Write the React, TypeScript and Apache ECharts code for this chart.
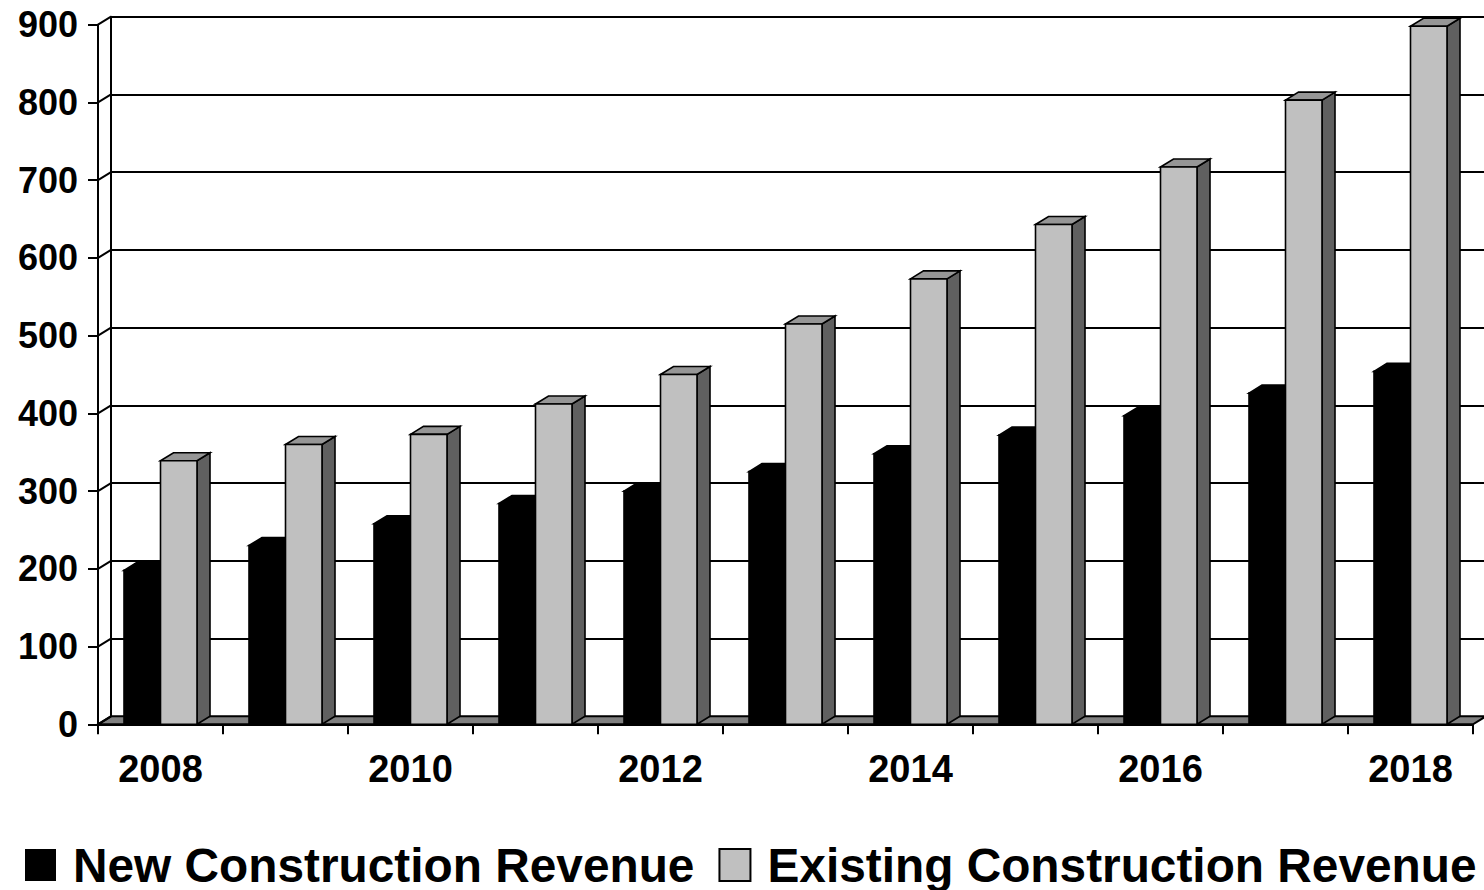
import React, { useEffect, useRef } from "react";
import * as echarts from "echarts";

const years = ["2008", "2009", "2010", "2011", "2012", "2013", "2014", "2015", "2016", "2017", "2018"];
const newConstruction = [198, 230, 258, 284, 300, 325, 348, 372, 397, 426, 454];
const existingConstruction = [339, 360, 373, 412, 450, 515, 573, 643, 717, 803, 898];
const yTicks = [0, 100, 200, 300, 400, 500, 600, 700, 800, 900];
const seriesNames = ["New Construction Revenue", "Existing Construction Revenue"];

const DX = 13;
const DY = 8;
const BAR_RATIO = 0.292;
const FONT = "'Liberation Sans', Arial, sans-serif";

type Faces = { front: string; top: string; side: string };
const faces: Faces[] = [
  { front: "#000000", top: "#000000", side: "#000000" },
  { front: "#c0c0c0", top: "#969696", side: "#606060" },
];

function barRender(seriesIdx: number) {
  const f = faces[seriesIdx];
  return (params: any, api: any) => {
    const idx = api.value(0);
    const val = api.value(1);
    const pTop = api.coord([idx, val]);
    const pBase = api.coord([idx, 0]);
    const band = api.size([1, 0])[0];
    const w = band * BAR_RATIO;
    const x0 = pTop[0] - w + seriesIdx * w;
    const x1 = x0 + w;
    const yT = pTop[1];
    const yB = pBase[1];
    const stroke = { stroke: "#000", lineWidth: 1.6, lineJoin: "miter" };
    return {
      type: "group",
      children: [
        {
          type: "polygon",
          shape: { points: [[x1, yT], [x1 + DX, yT - DY], [x1 + DX, yB - DY], [x1, yB]] },
          style: { fill: f.side, ...stroke },
        },
        {
          type: "polygon",
          shape: { points: [[x0, yT], [x0 + DX, yT - DY], [x1 + DX, yT - DY], [x1, yT]] },
          style: { fill: f.top, ...stroke },
        },
        {
          type: "rect",
          shape: { x: x0, y: yT, width: w, height: yB - yT },
          style: { fill: f.front, ...stroke },
        },
      ],
    };
  };
}

export default function App() {
  const ref = useRef<HTMLDivElement>(null);
  useEffect(() => {
    if (!ref.current) return;
    const chart = echarts.init(ref.current, null, { renderer: "svg" });
    const option: any = {
      animation: false,
      backgroundColor: "#ffffff",
      textStyle: { fontFamily: FONT },
      grid: [
        { left: 98, right: 11, top: 24.7, bottom: 165.7 },
        { left: 111, right: 0, top: 16.7, bottom: 173.7 },
      ],
      xAxis: [
        {
          type: "category",
          gridIndex: 0,
          data: years,
          boundaryGap: true,
          axisLine: { show: true, lineStyle: { color: "#000", width: 2 } },
          axisTick: { show: true, interval: 0, length: 10, lineStyle: { color: "#000", width: 2 } },
          axisLabel: {
            interval: 1,
            margin: 26,
            color: "#000",
            fontSize: 38,
            fontWeight: "bold",
            fontFamily: FONT,
          },
          splitLine: { show: false },
        },
        {
          type: "category",
          gridIndex: 1,
          data: years,
          show: false,
        },
      ],
      yAxis: [
        {
          type: "value",
          gridIndex: 0,
          min: 0,
          max: 900,
          interval: 100,
          axisLine: { show: true, lineStyle: { color: "#000", width: 2 } },
          axisTick: { show: true, length: 10, lineStyle: { color: "#000", width: 2 } },
          axisLabel: {
            margin: 20,
            color: "#000",
            fontSize: 36,
            fontWeight: "bold",
            fontFamily: FONT,
          },
          splitLine: { show: false },
        },
        {
          type: "value",
          gridIndex: 1,
          min: 0,
          max: 900,
          interval: 100,
          axisLine: { show: true, lineStyle: { color: "#000", width: 2 } },
          axisTick: { show: false },
          axisLabel: { show: false },
          splitLine: { show: true, lineStyle: { color: "#000", width: 2 } },
        },
      ],
      legend: {
        left: 20,
        top: 836,
        itemWidth: 31,
        itemHeight: 32,
        itemGap: 24,
        icon: "rect",
        textStyle: {
          color: "#000",
          fontSize: 47.8,
          fontWeight: "bold",
          fontFamily: FONT,
          padding: [0, 0, 0, 12],
        },
        data: [
          { name: seriesNames[0], icon: "rect", itemStyle: { color: "#000000", borderWidth: 0 } },
          {
            name: seriesNames[1],
            icon: "rect",
            itemStyle: { color: "#c0c0c0", borderColor: "#000000", borderWidth: 2 },
          },
        ],
      },
      series: [
        {
          type: "custom",
          name: "floor",
          xAxisIndex: 0,
          yAxisIndex: 0,
          clip: false,
          silent: true,
          z: 1,
          data: [[0, 0]],
          renderItem: (params: any, api: any) => {
            const cs = params.coordSys;
            const yb = api.coord([0, 0])[1];
            return {
              type: "polygon",
              shape: {
                points: [
                  [cs.x, yb],
                  [cs.x + cs.width, yb],
                  [cs.x + cs.width + DX, yb - DY],
                  [cs.x + DX, yb - DY],
                ],
              },
              style: { fill: "#808080", stroke: "#000", lineWidth: 2 },
            };
          },
        },
        {
          type: "custom",
          name: "wallTicks",
          xAxisIndex: 0,
          yAxisIndex: 0,
          clip: false,
          silent: true,
          z: 1,
          data: yTicks.map((v) => [0, v]),
          renderItem: (params: any, api: any) => {
            const cs = params.coordSys;
            const y = api.coord([0, api.value(1)])[1];
            return {
              type: "line",
              shape: { x1: cs.x, y1: y, x2: cs.x + DX, y2: y - DY },
              style: { stroke: "#000", lineWidth: 2 },
            };
          },
        },
        {
          type: "custom",
          name: seriesNames[0],
          xAxisIndex: 0,
          yAxisIndex: 0,
          clip: false,
          z: 3,
          itemStyle: { color: "#000000" },
          data: newConstruction.map((v, i) => [i, v]),
          renderItem: barRender(0),
        },
        {
          type: "custom",
          name: seriesNames[1],
          xAxisIndex: 0,
          yAxisIndex: 0,
          clip: false,
          z: 4,
          itemStyle: { color: "#c0c0c0" },
          data: existingConstruction.map((v, i) => [i, v]),
          renderItem: barRender(1),
        },
      ],
    };
    chart.setOption(option);
    return () => chart.dispose();
  }, []);
  return (
    <div
      ref={ref}
      style={{ position: "absolute", left: 0, top: 0, width: 1484, height: 890, background: "#fff" }}
    />
  );
}
